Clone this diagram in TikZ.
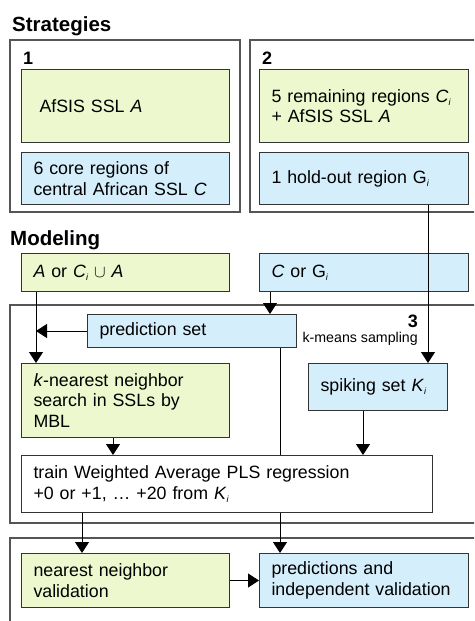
\documentclass[tikz,border=0pt]{standalone}
\usepackage{fontspec}
\setmainfont{Liberation Sans}
\usetikzlibrary{arrows.meta}
\definecolor{boxgreen}{RGB}{237,248,206}
\definecolor{boxblue}{RGB}{212,238,252}
\definecolor{edgegray}{RGB}{51,51,51}
\definecolor{framegray}{RGB}{85,85,85}
\newcommand{\isub}{\raisebox{-3pt}{\fontsize{9}{9}\selectfont\textit{i}}}
\newcommand{\Ci}{\textit{C}\isub}
\newcommand{\Gi}{G\isub}
\newcommand{\Ki}{\textit{K}\isub}
\tikzset{
  box/.style={draw=edgegray, line width=1pt, anchor=north west, inner xsep=12pt,
    inner ysep=0pt, align=left, font=\fontsize{17.8}{20.5}\selectfont},
  greenbox/.style={box, fill=boxgreen},
  bluebox/.style={box, fill=boxblue},
  whitebox/.style={box, fill=white},
  frame/.style={draw=framegray, line width=1.3pt},
  arr/.style={line width=1pt, -{Triangle[width=14pt,length=11pt]}},
  heading/.style={font=\bfseries\fontsize{20.5}{24}\selectfont, anchor=base west, inner sep=0pt},
  number/.style={font=\bfseries\fontsize{18}{21}\selectfont, inner sep=0pt}
}
\begin{document}
\begin{tikzpicture}[x=1pt, y=-1pt]
        \clip (0,0) rectangle (474,621);
        % strategies
        \node[heading] (strat) at (12,31) {Strategies};
        \draw[frame] (10,40) rectangle (240,212);
        \draw[frame] (250,40) rectangle (490,212);
        \node[number, anchor=base west] (one) at (23,64) {1};
        \node[number, anchor=base west] (two) at (262,64) {2};
        \node[greenbox, text width=184pt, minimum height=73pt] (afsis) at (21,69) {\hspace*{6pt}AfSIS SSL \textit{A}};
        \node[bluebox, text width=184pt, minimum height=52pt] (core) at (21,152) {6 core regions of\\central African SSL \textit{C}};
        \node[greenbox, text width=185pt, minimum height=73pt] (remain) at (259,69) {5 remaining regions \Ci\\+ AfSIS SSL \textit{A}};
        \node[bluebox, text width=185pt, minimum height=52pt] (holdout) at (259,152) {1 hold-out region \Gi};
        % modeling
        \node[heading] (model) at (10,245) {Modeling};
        \node[greenbox, text width=184pt, minimum height=38pt] (union) at (21,253) {\textit{A} or \Ci\ $\cup$ \textit{A}};
        \node[bluebox, text width=185pt, minimum height=38pt] (cgi) at (259,253) {\textit{C} or \Gi};
        \draw[frame] (10,305) rectangle (490,523);
        \node[number, anchor=base east] (three) at (418,327) {3};
        \node[anchor=base east, inner sep=0pt, font=\fontsize{14.2}{17}\selectfont] (kmeans) at (418,342) {k-means sampling};
        \node[bluebox, text width=185pt, minimum height=33pt] (predset) at (87,314) {prediction set};
        \node[greenbox, text width=184pt, minimum height=74pt] (knn) at (21,363) {\textit{k}-nearest neighbor\\search in SSLs by\\MBL};
        \node[bluebox, text width=115pt, minimum height=47pt] (spike) at (308,363) {spiking set \Ki};
        \node[whitebox, text width=387pt, minimum height=57pt] (train) at (21,455) {train Weighted Average PLS regression\\+0 or +1, … +20 from \Ki};
        % validation
        \draw[frame] (10,538) rectangle (490,640);
        \node[greenbox, text width=184pt, minimum height=54pt] (nnval) at (21,553) {nearest neighbor\\validation};
        \node[bluebox, text width=185pt, minimum height=54pt] (predval) at (259,553) {predictions and\\independent validation};
        % connectors
        \coordinate (xa) at (36,0);
        \coordinate (xc) at (270,0);
        \coordinate (xp) at (280,0);
        \coordinate (xh) at (428,0);
        \coordinate (xk) at (113,0);
        \coordinate (xs) at (363,0);
        \coordinate (xt) at (82,0);
        \draw[arr] (holdout.south -| xh) -- (spike.north -| xh);
        \draw[arr] (union.south -| xa) -- (knn.north -| xa);
        \draw[arr] (predset.west) -- (predset.west -| xa);
        \draw[arr] (cgi.south -| xc) -- (predset.north -| xc);
        \draw[line width=1pt] (predset.south -| xp) -- (train.north -| xp);
        \draw[arr] (train.south -| xp) -- (predval.north -| xp);
        \draw[arr] (knn.south -| xk) -- (train.north -| xk);
        \draw[arr] (spike.south -| xs) -- (train.north -| xs);
        \draw[arr] (train.south -| xt) -- (nnval.north -| xt);
        \draw[arr] (nnval.east) -- (predval.west);
\end{tikzpicture}
\end{document}
